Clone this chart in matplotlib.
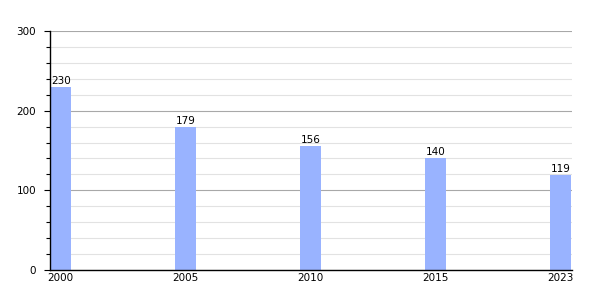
import matplotlib
matplotlib.use('Agg')
import matplotlib.pyplot as plt
from matplotlib.ticker import MultipleLocator

years = ['2000', '2005', '2010', '2015', '2023']
values = [230, 179, 156, 140, 119]

fig = plt.figure(figsize=(6, 3), dpi=100)
ax = fig.add_axes([50 / 600, 30 / 300, 522 / 600, 239 / 300])

pos = list(range(len(years)))
ax.bar(pos, values, width=0.17, color='#99b3ff', zorder=2)
for x, v in zip(pos, values):
    ax.text(x, v + 1.5, str(v), ha='center', va='bottom', fontsize=7.5, zorder=3)

ax.set_xlim(-0.085, 4.09)
ax.set_ylim(0, 300)
ax.set_xticks(pos)
ax.set_xticklabels(years, fontsize=7.5)
ax.yaxis.set_major_locator(MultipleLocator(100))
ax.yaxis.set_minor_locator(MultipleLocator(20))
ax.tick_params(axis='y', labelsize=7.5, length=4, width=0.8, pad=6)
ax.tick_params(axis='y', which='minor', length=3, width=0.8)
ax.tick_params(axis='x', length=0, pad=2)

ax.grid(axis='y', which='major', color='#a8a8a8', linewidth=0.8, zorder=0)
ax.grid(axis='y', which='minor', color='#e2e2e2', linewidth=0.8, zorder=0)
ax.set_axisbelow(True)

for s in ['top', 'right']:
    ax.spines[s].set_visible(False)
ax.spines['left'].set_linewidth(1.0)
ax.spines['bottom'].set_linewidth(1.0)

fig.savefig('out.png', dpi=100)
